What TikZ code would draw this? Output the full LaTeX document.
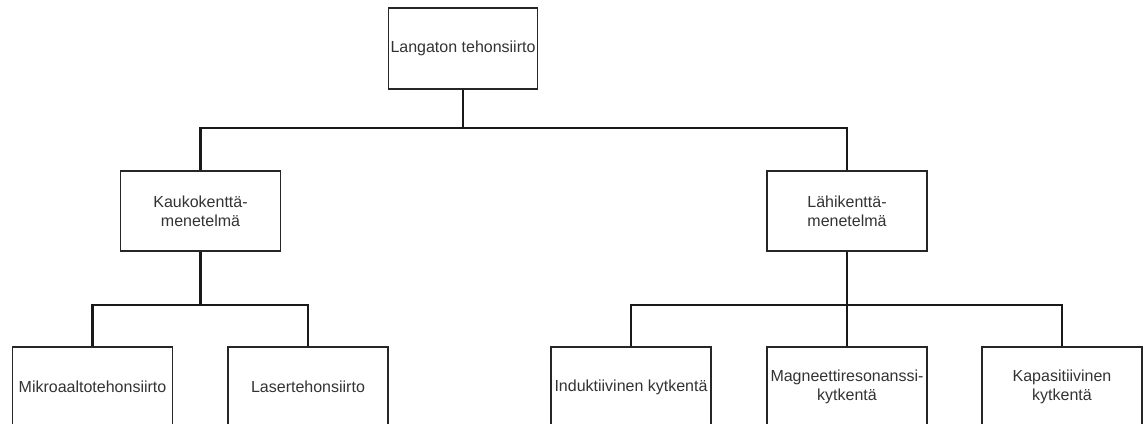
\documentclass[tikz,border=0pt]{standalone}
\usepackage{fontspec}
\setmainfont{Liberation Sans}
\begin{document}
\begin{tikzpicture}[x=1pt,y=-1pt,
  box/.style={draw=black!85, line width=1.3pt, fill=white, minimum width=160pt, minimum height=80pt,
    inner sep=0pt, align=center, text=black!80, font=\fontsize{16}{19.2}\selectfont},
  conn/.style={draw=black!90, line width=2.7pt, line join=miter}]
\useasboundingbox (0,0) rectangle (1143,423);
\clip (0,0) rectangle (1143,423);
\node[box, minimum width=149pt, minimum height=81pt] (top) at (463,48.5) {Langaton tehonsiirto};
\node[box] (kauko) at (200.5,211) {Kaukokenttä-\\menetelmä};
\node[box] (lahi) at (847,211) {Lähikenttä-\\menetelmä};
\node[box] (mikro) at (92.5,387) {Mikroaaltotehonsiirto};
\node[box] (laser) at (308,387) {Lasertehonsiirto};
\node[box] (ind) at (631,387) {Induktiivinen kytkentä};
\node[box] (mag) at (847,387) {Magneettiresonanssi-\\kytkentä};
\node[box] (kap) at (1062,387) {Kapasitiivinen\\kytkentä};
\coordinate (bus1) at (0,128);
\coordinate (bus2) at (0,305);
\draw[conn] (top.south) -- (top.south |- bus1) -| (kauko.north);
\draw[conn] (top.south) -- (top.south |- bus1) -| (lahi.north);
\draw[conn] (kauko.south) -- (kauko.south |- bus2) -| (mikro.north);
\draw[conn] (kauko.south) -- (kauko.south |- bus2) -| (laser.north);
\draw[conn] (lahi.south) -- (lahi.south |- bus2) -| (ind.north);
\draw[conn] (lahi.south) -- (mag.north);
\draw[conn] (lahi.south) -- (lahi.south |- bus2) -| (kap.north);
\end{tikzpicture}
\end{document}
